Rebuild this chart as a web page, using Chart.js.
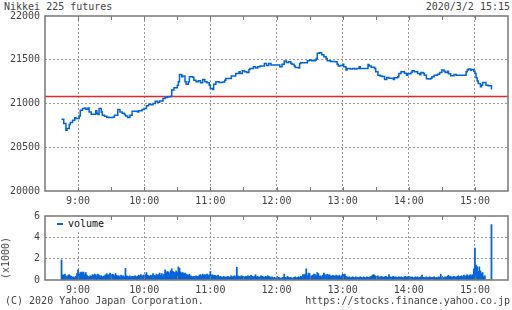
<!DOCTYPE html>
<html>
<head>
<meta charset="utf-8">
<script src="https://cdn.jsdelivr.net/npm/chart.js@4.4.0/dist/chart.umd.min.js"></script>
<style>
  body { margin: 0; background: #fff; }
  #wrap { position: relative; width: 512px; height: 310px; font-family: "DejaVu Sans Mono", monospace; font-size: 10px; color: #444; }
  #wrap div { position: absolute; line-height: 12px; white-space: nowrap; }
  canvas { position: absolute; left: 0; }
</style>
</head>
<body>
<div id="wrap">
  <div style="left:4px;top:1px">Nikkei 225 futures</div>
  <div style="right:2px;top:1px">2020/3/2 15:15</div>
  <canvas id="price" width="512" height="205" style="top:0"></canvas>
  <canvas id="vol" width="512" height="91" style="top:204px"></canvas>
  <div style="left:54px;top:217px;width:54px;height:14px;background:#fff"></div>
  <div style="left:57px;top:223px;width:6px;height:2px;background:#0064dc"></div>
  <div style="left:68px;top:218px;color:#111">volume</div>
  <div style="left:6px;top:258px;transform:translate(-50%,-50%) rotate(-90deg)">(x1000)</div>
  <div style="left:5px;top:295px">(C) 2020 Yahoo Japan Corporation.</div>
  <div style="right:2px;top:295px">https://stocks.finance.yahoo.co.jp</div>
</div>
<script>
// price change points (time -> price)
var priceTimes = ["8:45","8:47","8:49","8:50","8:52","8:53","8:55","8:57","8:58","9:01",
  "9:02","9:04","9:06","9:07","9:09","9:10","9:12","9:16","9:17","9:18",
  "9:19","9:21","9:22","9:24","9:26","9:28","9:31","9:33","9:36","9:38",
  "9:40","9:42","9:43","9:45","9:47","9:49","9:54","9:55","9:58","10:00",
  "10:02","10:04","10:06","10:08","10:10","10:12","10:14","10:17","10:19","10:21",
  "10:24","10:25","10:27","10:30","10:31","10:32","10:34","10:35","10:37","10:38",
  "10:40","10:41","10:44","10:45","10:47","10:49","10:51","10:53","10:55","10:57",
  "10:59","11:00","11:02","11:03","11:05","11:08","11:11","11:13","11:14","11:19",
  "11:23","11:26","11:27","11:29","11:31","11:33","11:35","11:36","11:39","11:41",
  "11:43","11:45","11:49","11:51","11:53","11:55","11:58","12:03","12:05","12:07",
  "12:09","12:11","12:13","12:14","12:16","12:17","12:20","12:21","12:22","12:28",
  "12:30","12:32","12:35","12:36","12:37","12:39","12:41","12:43","12:45","12:46",
  "12:49","12:53","12:55","12:56","12:58","13:00","13:01","13:03","13:04","13:07",
  "13:09","13:11","13:13","13:15","13:16","13:23","13:24","13:26","13:29","13:30",
  "13:32","13:34","13:36","13:38","13:40","13:42","13:46","13:47","13:50","13:51",
  "13:53","13:56","13:58","13:59","14:02","14:03","14:05","14:08","14:10","14:11",
  "14:13","14:14","14:16","14:18","14:20","14:21","14:23","14:26","14:28","14:30",
  "14:32","14:33","14:35","14:36","14:38","14:41","14:43","14:52","14:53","14:54",
  "14:56","14:57","14:59","15:00","15:01","15:02","15:03","15:05","15:06","15:07",
  "15:10","15:12","15:15"];
var prices = [20821,20771,20695,20714,20760,20783,20809,20836,20830,20858,
  20924,20943,20950,20935,20950,20904,20878,20916,20885,20874,
  20943,20904,20866,20855,20844,20840,20844,20866,20932,20904,
  20890,20874,20858,20840,20866,20912,20904,20916,20932,20943,
  20973,20992,20985,21000,21026,21015,21030,21057,21069,21076,
  21084,21153,21180,21210,21248,21332,21305,21315,21248,21221,
  21248,21305,21300,21267,21248,21260,21237,21275,21250,21237,
  21210,21172,21160,21221,21248,21240,21245,21267,21286,21313,
  21344,21362,21344,21374,21362,21355,21390,21401,21420,21405,
  21420,21428,21458,21435,21458,21440,21439,21420,21450,21485,
  21470,21478,21458,21450,21428,21412,21405,21458,21466,21489,
  21496,21490,21496,21515,21573,21580,21557,21534,21515,21489,
  21481,21478,21450,21428,21435,21450,21420,21382,21401,21395,
  21401,21395,21401,21420,21401,21447,21430,21415,21401,21362,
  21324,21313,21310,21275,21298,21290,21275,21295,21305,21344,
  21362,21345,21324,21340,21355,21374,21362,21344,21330,21355,
  21345,21324,21282,21279,21290,21305,21324,21335,21355,21382,
  21370,21355,21370,21340,21317,21332,21324,21362,21382,21393,
  21380,21390,21370,21344,21294,21256,21229,21191,21210,21241,
  21210,21202,21160];
var prevClose = 21080;

// 1-minute volume (x1000), from 8:45 to 15:15
var volStart = "8:45";
var volume = [
  1.88,0.50,0.45,0.55,0.40,0.30,0.45,0.50,0.40,0.35,
  0.25,0.30,0.20,0.35,0.60,0.95,0.55,0.70,0.75,0.70,
  0.75,0.50,0.70,0.45,0.35,0.30,0.40,0.35,0.50,0.45,
  0.55,0.50,0.40,0.55,0.45,0.35,0.40,0.30,0.35,0.40,
  0.50,0.60,0.45,0.50,0.65,0.45,0.55,0.50,0.40,0.60,
  0.45,0.35,0.40,0.30,0.45,0.35,0.40,0.30,1.10,0.40,
  0.35,0.30,0.40,0.25,0.35,0.30,0.35,0.40,0.30,0.35,
  0.45,0.40,0.50,0.35,0.45,0.40,0.50,0.70,0.45,0.40,
  0.35,0.45,0.40,0.60,0.45,0.40,0.55,0.45,0.50,0.65,
  0.45,0.60,0.40,0.55,0.95,0.70,0.80,0.75,0.65,0.85,
  1.05,0.80,0.75,0.70,0.85,0.70,1.23,1.10,0.75,0.65,
  0.70,0.60,0.65,0.55,0.50,0.45,0.55,0.40,0.35,0.30,
  0.35,0.30,0.40,0.35,0.30,0.45,0.50,0.40,0.55,0.45,
  0.50,0.45,0.55,0.40,0.50,0.80,0.45,0.50,0.40,0.45,
  0.40,0.35,0.45,0.30,0.35,0.30,0.25,0.35,0.30,0.25,
  0.30,0.35,0.25,0.30,0.40,0.30,0.35,0.40,0.30,1.20,
  0.40,0.35,0.30,0.40,0.35,0.25,0.30,0.35,0.30,0.40,
  0.35,0.30,0.45,0.35,0.30,0.35,0.50,0.30,0.35,0.25,
  0.30,0.40,0.35,0.30,0.25,0.35,0.30,0.40,0.35,0.30,
  0.25,0.30,0.20,0.25,0.20,0.15,0.20,0.25,0.20,0.15,
  0.20,0.25,0.55,0.25,0.20,0.35,0.25,0.20,0.25,0.15,
  0.20,0.25,0.30,0.20,0.25,0.30,0.25,0.35,0.30,0.50,
  0.45,0.55,1.05,0.40,0.65,0.60,0.35,0.40,0.45,0.55,
  0.50,0.40,0.70,0.60,0.35,0.40,0.30,0.45,0.65,0.50,
  0.40,0.55,0.45,0.50,0.40,0.35,0.45,0.40,0.35,0.45,
  0.40,0.35,0.45,0.30,0.40,0.55,0.50,0.55,0.35,0.30,
  0.25,0.30,0.20,0.25,0.30,0.25,0.20,0.30,0.25,0.20,
  0.25,0.30,0.25,0.20,0.30,0.25,0.20,0.30,0.25,0.20,
  0.30,0.35,0.45,0.50,0.45,0.35,0.30,0.40,0.30,0.25,
  0.35,0.30,0.25,0.30,0.35,0.30,0.25,0.50,0.30,0.25,
  0.30,0.35,0.25,0.30,0.25,0.20,0.30,0.25,0.30,0.25,
  0.20,0.30,0.35,0.25,0.30,0.35,0.30,0.25,0.30,0.20,
  0.25,0.30,0.25,0.30,0.20,0.25,0.30,0.45,0.25,0.20,
  0.25,0.30,0.20,0.25,0.30,0.25,0.20,0.25,0.30,0.20,
  0.25,0.20,0.30,0.25,0.55,0.20,0.25,0.20,0.30,0.25,
  0.35,0.45,0.30,0.35,0.25,0.30,0.35,0.30,0.25,0.35,
  0.40,0.30,0.35,0.40,0.30,0.45,0.35,0.40,0.50,0.35,
  0.45,0.50,0.40,0.50,1.05,3.00,1.40,1.25,0.80,1.23,
  0.85,0.60,0.70,0.30,0.40,0,0,0,0,0,
  5.20];

var xMin = toMin("8:30"), xMax = toMin("15:30");
var blue = "#0064dc";
var font = { family: "'DejaVu Sans Mono', monospace", size: 10 };

function toMin(s) {
  var p = s.split(":");
  return parseInt(p[0]) * 60 + parseInt(p[1]);
}
function hhmm(v) {
  var m = v % 60;
  return Math.floor(v / 60) + ":" + (m < 10 ? "0" : "") + m;
}

function xScale(h) {
  return {
    type: "linear", min: xMin, max: xMax, offset: false,
    ticks: { stepSize: 30, autoSkip: false, maxRotation: 0, font: font, color: "#444", padding: 4,
      callback: function (v) { return v % 60 == 0 ? hhmm(v) : ""; } },
    grid: { offset: false, drawTicks: false, lineWidth: 1, borderDash: [2, 2],
      color: function (c) { var v = c.tick.value; return (v % 60 == 0 && v > xMin && v < xMax) ? "#999" : "rgba(0,0,0,0)"; } },
    border: { display: false, dash: [2, 2] },
    afterFit: function (s) { s.height = h; }
  };
}
function yScale(min, max, step) {
  return {
    min: min, max: max,
    ticks: { stepSize: step, font: font, color: "#444", padding: 5,
      callback: function (v) { return String(v); } },
    grid: { drawTicks: false, lineWidth: 1, borderDash: [2, 2],
      color: function (c) { var v = c.tick.value; return (v > min && v < max) ? "#999" : "rgba(0,0,0,0)"; } },
    border: { display: false, dash: [2, 2] },
    afterFit: function (s) { s.width = 45; }
  };
}

// plot frame and half-hour tick marks
var frame = {
  id: "frame",
  afterDatasetsDraw: function (chart) {
    var a = chart.chartArea, ctx = chart.ctx, x = chart.scales.x;
    ctx.save();
    ctx.setLineDash([]);
    ctx.strokeStyle = "#777";
    ctx.lineWidth = 1.5;
    ctx.strokeRect(a.left, a.top, a.right - a.left, a.bottom - a.top);
    ctx.lineWidth = 1;
    ctx.beginPath();
    for (var v = xMin + 30; v < xMax; v += 30) {
      var px = Math.round(x.getPixelForValue(v)) + 0.5;
      ctx.moveTo(px, a.top); ctx.lineTo(px, a.top + 4);
      ctx.moveTo(px, a.bottom); ctx.lineTo(px, a.bottom - 4);
    }
    ctx.stroke();
    ctx.restore();
  }
};

var pricePts = priceTimes.map(function (t, i) { return { x: toMin(t), y: prices[i] }; });
var volPts = volume.map(function (v, i) { return { x: toMin(volStart) + i, y: v }; });

new Chart(document.getElementById("price"), {
  type: "line",
  data: {
    datasets: [
      { data: pricePts, borderColor: blue, borderWidth: 1.5, pointRadius: 0, stepped: true, fill: false, order: 0 },
      { data: [{ x: xMin, y: prevClose }, { x: xMax, y: prevClose }], borderColor: "#e8262a", borderWidth: 1.5, pointRadius: 0, order: 1 }
    ]
  },
  options: {
    responsive: false, animation: false, devicePixelRatio: 1,
    layout: { padding: { top: 16, right: 1, left: 0, bottom: 0 } },
    scales: { x: xScale(14), y: yScale(20000, 22000, 500) },
    plugins: { legend: { display: false }, tooltip: { enabled: false } }
  },
  plugins: [frame]
});

new Chart(document.getElementById("vol"), {
  type: "bar",
  data: {
    datasets: [{ label: "volume", data: volPts, backgroundColor: blue, borderWidth: 0, barPercentage: 1, categoryPercentage: 1 }]
  },
  options: {
    responsive: false, animation: false, devicePixelRatio: 1,
    layout: { padding: { top: 12, right: 1, left: 0, bottom: 0 } },
    scales: { x: xScale(15), y: yScale(0, 6, 2) },
    plugins: { legend: { display: false }, tooltip: { enabled: false } }
  },
  plugins: [frame]
});
</script>
</body>
</html>
